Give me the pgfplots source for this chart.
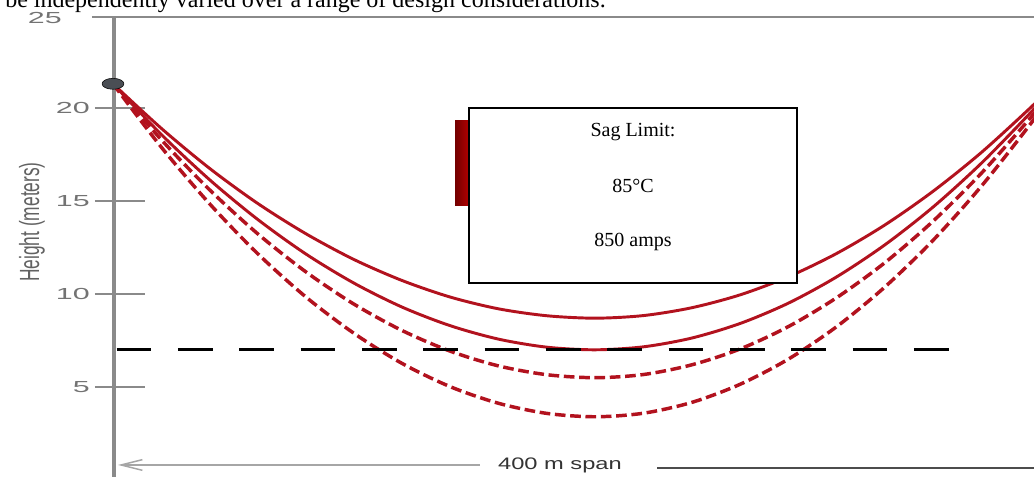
\documentclass[border=0pt]{standalone}
\usepackage{fontspec}
\setmainfont{Liberation Serif}
\newfontfamily\arial{Liberation Sans}
\usepackage{pgfplots}
\pgfplotsset{compat=1.18}
\usetikzlibrary{arrows.meta}
\definecolor{wire}{RGB}{178,18,30}
\definecolor{axgray}{RGB}{138,138,138}
\definecolor{lblgray}{RGB}{115,115,115}
\definecolor{dotgray}{RGB}{74,78,84}

\pgfplotstableread{
x c1 c2 c3 c4
0 21.3 21.3 21.3 21.3
20 18.91 18.58 18.30 17.90
40 16.76 16.15 15.61 14.86
60 14.87 14.01 13.24 12.17
80 13.24 12.15 11.19 9.84
100 11.85 10.58 9.45 7.88
120 10.72 9.29 8.03 6.26
140 9.83 8.29 6.92 5.01
160 9.20 7.57 6.13 4.12
180 8.83 7.14 5.66 3.58
200 8.70 7.00 5.50 3.40
220 8.84 7.16 5.67 3.59
240 9.26 7.63 6.19 4.17
260 9.95 8.41 7.04 5.14
280 10.92 9.50 8.24 6.49
300 12.17 10.91 9.79 8.23
320 13.70 12.63 11.67 10.36
340 15.51 14.66 13.90 12.87
360 17.59 17.01 16.47 15.77
380 19.95 19.67 19.39 19.05
390 21.23 21.11 20.98 20.84
}\sag

\begin{document}
\begin{tikzpicture}[x=1pt,y=1pt]
% top text (cut by the page edge, as in the original screenshot)
\node[anchor=base west, inner sep=0pt, font=\fontsize{18}{21}\selectfont] at (-81,354.4) {be independently varied over a range of design considerations.};
% axis decorations
\draw[axgray, line width=1.5pt] (-15.75,347.25) -- (700,347.25);
\draw[axgray, line width=3pt] (0.75,347.25) -- (0.75,-5);
\foreach \v/\yy in {5/69.75,10/139.5,15/209.25,20/279} {
  \draw[axgray, line width=1.5pt] (-13.5,\yy) -- (24,\yy);
  \node[anchor=east, inner sep=0pt, text=lblgray, font=\arial\fontsize{12}{14}\selectfont] at (-17.25,\yy) {\scalebox{1.9}[1]{\v}};
}
\node[anchor=east, inner sep=0pt, text=lblgray, font=\arial\fontsize{12}{14}\selectfont] at (-38.25,346.5) {\scalebox{1.9}[1]{25}};
\node[rotate=90, inner sep=0pt, text=lblgray!85!black, font=\arial\fontsize{13}{15}\selectfont] at (-60.75,193.5) {\scalebox{1}[1.6]{Height (meters)}};

\begin{axis}[at={(0,0)}, anchor=south west, scale only axis,
  width=690.75pt, height=348.75pt,
  xmin=0, xmax=382, ymin=0, ymax=25,
  axis lines=none, clip=false]
\addplot[wire, line width=2.6pt, dash pattern=on 8pt off 3.5pt, smooth] table[x=x,y=c4] {\sag};
\addplot[wire, line width=2.6pt, dash pattern=on 8pt off 3.5pt, smooth] table[x=x,y=c3] {\sag};
\addplot[wire, line width=2.2pt, smooth] table[x=x,y=c2] {\sag};
\addplot[wire, line width=2.2pt, smooth] table[x=x,y=c1] {\sag};
\addplot[black, line width=2.25pt, dash pattern=on 26pt off 20pt] coordinates {(1.5,7) (349,7)};
\addplot[only marks, mark=*, mark size=4.1pt, mark options={xscale=2, fill=dotgray, draw=none}] coordinates {(0,21.3)};
\end{axis}

% sag limit box
\shade[left color=red!45!black, right color=red!70!black] (256.5,205.5) rectangle (267,269.25);
\draw[black, line width=1.5pt, fill=white] (267,147.75) rectangle (513,279);
\begin{scope}[every node/.style={inner sep=0pt, anchor=base, font=\fontsize{15}{18}\selectfont}]
\node at (390,257.25) {Sag Limit:};
\node at (390,215.25) {85°C};
\node at (390,174.75) {850 amps};
\end{scope}

% span annotation
\draw[black!35, line width=1.1pt, -{Straight Barb[length=16pt,width=8pt]}] (275.25,11.25) -- (3.75,11.25);
\draw[black!70, line width=1.1pt] (408,9) -- (700,9);
\node[inner sep=0pt, text=black!80, font=\arial\fontsize{12.5}{15}\selectfont] at (335.25,11.25) {\scalebox{1.42}[1]{400 m span}};

\pgfresetboundingbox
\path[use as bounding box] (-84.75,2.25) rectangle (690.75,360);
\end{tikzpicture}
\end{document}
